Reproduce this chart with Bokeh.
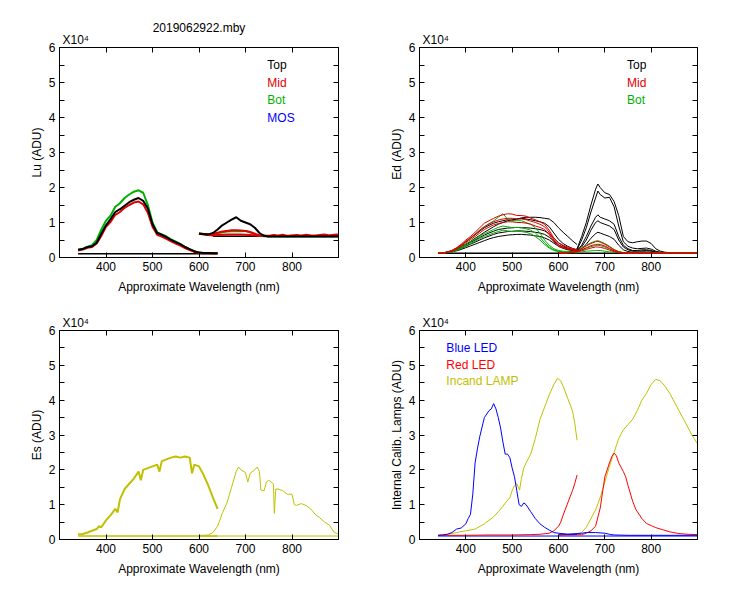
from bokeh.plotting import figure
from bokeh.models import Range1d, FixedTicker, LinearAxis, Label, Title
from bokeh.layouts import gridplot
from bokeh.embed import file_html
from bokeh.resources import INLINE

# ---------------- data (values in units of 1e4 ADU) ----------------
TITLE = "2019062922.mby"
MULT = "X10\u2074"
X_TICKS = [400, 500, 600, 700, 800]
Y_TICKS = [0, 1, 2, 3, 4, 5, 6]
Y_MINOR = [0.5, 1.5, 2.5, 3.5, 4.5, 5.5]
X_LABEL = "Approximate Wavelength (nm)"

# Lu panel
lu_wl_a = [340, 350, 360, 370, 380, 390, 400, 410, 420, 430, 440, 450, 460, 470, 480, 490,
           500, 510, 520, 530, 540, 550, 560, 570, 580, 590, 600, 610, 620, 630, 640]
lu_top_a = [0.22, 0.24, 0.30, 0.32, 0.42, 0.68, 0.92, 1.10, 1.30, 1.38, 1.48, 1.58, 1.65, 1.70, 1.62, 1.40,
            0.95, 0.70, 0.65, 0.58, 0.50, 0.44, 0.38, 0.30, 0.24, 0.18, 0.14, 0.13, 0.13, 0.12, 0.12]
lu_mid_a = [0.20, 0.23, 0.28, 0.30, 0.40, 0.62, 0.88, 1.02, 1.22, 1.30, 1.42, 1.50, 1.57, 1.60, 1.52, 1.28,
            0.88, 0.65, 0.60, 0.53, 0.46, 0.40, 0.34, 0.27, 0.21, 0.16, 0.13, 0.12, 0.12, 0.12, 0.12]
lu_bot_a = [0.22, 0.25, 0.30, 0.35, 0.50, 0.80, 1.05, 1.20, 1.45, 1.55, 1.70, 1.80, 1.88, 1.92, 1.85, 1.50,
            1.00, 0.72, 0.66, 0.60, 0.52, 0.45, 0.38, 0.30, 0.23, 0.17, 0.14, 0.13, 0.13, 0.12, 0.12]
lu_wl_b = [600, 610, 620, 630, 640, 650, 660, 670, 680, 690, 700, 710, 720, 730, 740, 750,
           760, 770, 780, 790, 800, 810, 820, 830, 840, 850, 860, 870, 880, 890, 900]
lu_top_b = [0.68, 0.67, 0.66, 0.70, 0.80, 0.92, 1.00, 1.08, 1.15, 1.05, 1.00, 0.95, 0.85, 0.70, 0.62, 0.60,
            0.60, 0.60, 0.60, 0.60, 0.60, 0.60, 0.60, 0.60, 0.60, 0.60, 0.60, 0.60, 0.60, 0.60, 0.60]
lu_mid_b = [0.68, 0.67, 0.66, 0.68, 0.71, 0.74, 0.76, 0.78, 0.78, 0.77, 0.76, 0.73, 0.68, 0.63, 0.62, 0.61,
            0.64, 0.62, 0.65, 0.61, 0.63, 0.64, 0.62, 0.65, 0.63, 0.62, 0.64, 0.66, 0.63, 0.65, 0.66]
lu_mid2_b = [0.68, 0.66, 0.64, 0.63, 0.64, 0.65, 0.66, 0.66, 0.66, 0.66, 0.65, 0.64, 0.63, 0.62, 0.62, 0.62,
             0.62, 0.62, 0.62, 0.62, 0.62, 0.62, 0.62, 0.62, 0.62, 0.62, 0.62, 0.62, 0.62, 0.62, 0.62]
lu_bot_b = [0.69, 0.67, 0.65, 0.66, 0.69, 0.72, 0.74, 0.75, 0.76, 0.75, 0.76, 0.72, 0.66, 0.62, 0.61, 0.60,
            0.61, 0.60, 0.61, 0.60, 0.61, 0.60, 0.61, 0.60, 0.61, 0.60, 0.61, 0.60, 0.61, 0.60, 0.61]
lu_dark_a_wl = [340, 640]
lu_dark_a = [0.11, 0.11]
lu_dark_b_wl = [630, 900]
lu_dark_b = [0.61, 0.61]

# Ed panel
ed_wl_a = [340, 350, 360, 370, 380, 390, 400, 410, 420, 430, 440, 450, 460, 470, 480, 490,
           500, 510, 520, 530, 540, 550, 560, 570, 580, 590, 600, 610, 620, 630, 640]
ed_top_a = [
    [0.12, 0.13, 0.15, 0.18, 0.24, 0.30, 0.38, 0.46, 0.55, 0.63, 0.72, 0.80, 0.88, 0.95, 1.00, 1.05,
     1.08, 1.10, 1.13, 1.15, 1.15, 1.15, 1.14, 1.12, 1.10, 1.00, 0.85, 0.72, 0.60, 0.48, 0.37],
    [0.12, 0.13, 0.16, 0.20, 0.27, 0.35, 0.45, 0.55, 0.65, 0.75, 0.85, 0.92, 0.98, 1.02, 1.05, 1.08,
     1.05, 1.10, 1.12, 1.10, 1.08, 1.05, 1.02, 0.98, 0.88, 0.70, 0.52, 0.40, 0.32, 0.26, 0.22],
    [0.12, 0.13, 0.15, 0.18, 0.23, 0.29, 0.36, 0.43, 0.50, 0.57, 0.64, 0.70, 0.75, 0.80, 0.82, 0.84,
     0.85, 0.86, 0.85, 0.85, 0.84, 0.82, 0.80, 0.76, 0.68, 0.55, 0.42, 0.33, 0.27, 0.23, 0.20],
    [0.12, 0.12, 0.14, 0.17, 0.21, 0.26, 0.32, 0.38, 0.44, 0.50, 0.56, 0.61, 0.66, 0.70, 0.72, 0.74,
     0.75, 0.76, 0.76, 0.75, 0.74, 0.72, 0.70, 0.66, 0.58, 0.47, 0.36, 0.29, 0.24, 0.21, 0.19],
    [0.12, 0.12, 0.13, 0.16, 0.19, 0.23, 0.28, 0.33, 0.38, 0.43, 0.48, 0.53, 0.57, 0.60, 0.62, 0.64,
     0.65, 0.66, 0.66, 0.65, 0.64, 0.62, 0.60, 0.56, 0.50, 0.41, 0.32, 0.26, 0.22, 0.20, 0.18],
]
ed_mid_a = [
    [0.12, 0.13, 0.16, 0.20, 0.28, 0.38, 0.50, 0.60, 0.72, 0.85, 0.98, 1.05, 1.12, 1.18, 1.22, 1.25,
     1.24, 1.20, 1.20, 1.18, 1.12, 1.08, 1.02, 0.95, 0.78, 0.55, 0.42, 0.35, 0.30, 0.26, 0.22],
    [0.12, 0.13, 0.15, 0.19, 0.26, 0.35, 0.46, 0.56, 0.66, 0.78, 0.88, 0.96, 1.02, 1.07, 1.10, 1.12,
     1.12, 1.10, 1.10, 1.08, 1.04, 1.00, 0.95, 0.88, 0.72, 0.50, 0.36, 0.30, 0.26, 0.23, 0.20],
    [0.12, 0.13, 0.15, 0.18, 0.24, 0.32, 0.42, 0.51, 0.60, 0.70, 0.80, 0.87, 0.93, 0.97, 1.00, 1.02,
     1.02, 1.00, 1.00, 0.98, 0.95, 0.90, 0.86, 0.80, 0.65, 0.45, 0.32, 0.27, 0.24, 0.21, 0.19],
]
ed_bot_a = [
    [0.12, 0.13, 0.15, 0.19, 0.26, 0.35, 0.46, 0.56, 0.67, 0.78, 0.88, 0.96, 1.05, 1.15, 1.25, 1.10,
     1.05, 1.05, 1.05, 1.00, 0.95, 0.85, 0.70, 0.50, 0.35, 0.25, 0.20, 0.18, 0.17, 0.16, 0.15],
    [0.12, 0.13, 0.14, 0.17, 0.22, 0.29, 0.37, 0.45, 0.53, 0.61, 0.68, 0.74, 0.80, 0.86, 0.90, 0.88,
     0.85, 0.86, 0.85, 0.82, 0.78, 0.70, 0.58, 0.42, 0.30, 0.22, 0.18, 0.16, 0.15, 0.15, 0.14],
    [0.12, 0.12, 0.14, 0.16, 0.20, 0.26, 0.33, 0.40, 0.47, 0.54, 0.60, 0.65, 0.70, 0.74, 0.78, 0.76,
     0.74, 0.75, 0.74, 0.72, 0.68, 0.60, 0.50, 0.37, 0.27, 0.20, 0.17, 0.15, 0.14, 0.14, 0.13],
]
ed_wl_b = [600, 610, 620, 630, 640, 650, 660, 670, 680, 685, 690, 700, 710, 720, 730, 740,
           750, 760, 770, 780, 790, 800, 810, 820, 830, 840, 850, 860, 870, 880, 890, 900]
ed_top_b = [
    [0.14, 0.14, 0.15, 0.18, 0.25, 0.60, 1.00, 1.50, 1.95, 2.10, 2.00, 1.85, 1.80, 1.60, 1.20, 0.60,
     0.45, 0.42, 0.45, 0.47, 0.47, 0.40, 0.25, 0.18, 0.15, 0.14, 0.14, 0.13, 0.13, 0.13, 0.13, 0.13],
    [0.13, 0.13, 0.14, 0.17, 0.22, 0.50, 0.85, 1.30, 1.70, 1.90, 1.80, 1.70, 1.72, 1.45, 0.90, 0.45,
     0.32, 0.27, 0.25, 0.26, 0.27, 0.24, 0.18, 0.15, 0.14, 0.13, 0.13, 0.13, 0.13, 0.13, 0.13, 0.13],
    [0.13, 0.13, 0.14, 0.16, 0.20, 0.35, 0.60, 0.90, 1.15, 1.22, 1.15, 1.10, 1.05, 0.95, 0.60, 0.35,
     0.25, 0.20, 0.20, 0.22, 0.22, 0.20, 0.16, 0.14, 0.13, 0.13, 0.13, 0.13, 0.13, 0.13, 0.13, 0.13],
    [0.13, 0.13, 0.14, 0.16, 0.19, 0.30, 0.50, 0.78, 1.00, 1.05, 1.00, 0.95, 0.90, 0.80, 0.50, 0.30,
     0.22, 0.18, 0.18, 0.19, 0.20, 0.18, 0.15, 0.14, 0.13, 0.13, 0.13, 0.13, 0.13, 0.13, 0.13, 0.13],
    [0.13, 0.13, 0.14, 0.15, 0.17, 0.25, 0.38, 0.55, 0.68, 0.72, 0.70, 0.65, 0.60, 0.52, 0.35, 0.22,
     0.17, 0.15, 0.15, 0.16, 0.16, 0.15, 0.14, 0.13, 0.13, 0.13, 0.13, 0.13, 0.13, 0.13, 0.13, 0.13],
]
ed_mid_b = [
    [0.13, 0.13, 0.14, 0.15, 0.18, 0.25, 0.33, 0.40, 0.45, 0.46, 0.44, 0.38, 0.30, 0.22, 0.16, 0.14,
     0.13, 0.13, 0.13, 0.13, 0.13, 0.13, 0.13, 0.13, 0.13, 0.13, 0.13, 0.13, 0.13, 0.13, 0.13, 0.13],
    [0.13, 0.13, 0.14, 0.15, 0.17, 0.22, 0.28, 0.34, 0.37, 0.38, 0.37, 0.33, 0.26, 0.19, 0.15, 0.14,
     0.13, 0.13, 0.13, 0.13, 0.13, 0.13, 0.13, 0.13, 0.13, 0.13, 0.13, 0.13, 0.13, 0.13, 0.13, 0.13],
    [0.13, 0.13, 0.14, 0.15, 0.16, 0.19, 0.23, 0.27, 0.30, 0.30, 0.29, 0.26, 0.21, 0.17, 0.14, 0.13,
     0.13, 0.13, 0.13, 0.13, 0.13, 0.13, 0.13, 0.13, 0.13, 0.13, 0.13, 0.13, 0.13, 0.13, 0.13, 0.13],
]
ed_bot_b = [
    [0.13, 0.13, 0.14, 0.15, 0.18, 0.26, 0.35, 0.42, 0.47, 0.48, 0.46, 0.40, 0.32, 0.23, 0.17, 0.14,
     0.13, 0.13, 0.13, 0.13, 0.13, 0.13, 0.13, 0.13, 0.13, 0.13, 0.13, 0.13, 0.13, 0.13, 0.13, 0.13],
    [0.13, 0.13, 0.14, 0.15, 0.16, 0.21, 0.26, 0.31, 0.34, 0.35, 0.34, 0.30, 0.24, 0.18, 0.15, 0.14,
     0.13, 0.13, 0.13, 0.13, 0.13, 0.13, 0.13, 0.13, 0.13, 0.13, 0.13, 0.13, 0.13, 0.13, 0.13, 0.13],
    [0.13, 0.13, 0.13, 0.14, 0.15, 0.16, 0.18, 0.19, 0.20, 0.20, 0.20, 0.18, 0.16, 0.15, 0.14, 0.13,
     0.13, 0.13, 0.13, 0.13, 0.13, 0.13, 0.13, 0.13, 0.13, 0.13, 0.13, 0.13, 0.13, 0.13, 0.13, 0.13],
]
ed_dark_wl = [340, 900]
ed_dark = [0.12, 0.12]

# Es panel
es_wl_a = [340, 350, 360, 370, 380, 385, 390, 400, 410, 420, 425, 430, 440, 450, 460, 470, 475, 480,
           490, 500, 510, 515, 520, 530, 540, 550, 560, 570, 580, 585, 590, 600, 610, 620, 630, 640]
es_a = [0.15, 0.16, 0.20, 0.25, 0.30, 0.38, 0.35, 0.55, 0.70, 0.88, 0.78, 1.15, 1.45, 1.60, 1.75, 1.95, 1.70, 2.00,
        2.05, 2.10, 2.15, 1.95, 2.25, 2.30, 2.35, 2.38, 2.35, 2.38, 2.35, 1.90, 2.15, 2.10, 1.85, 1.55, 1.20, 0.88]
es_wl_b = [600, 610, 620, 630, 640, 650, 660, 670, 680, 685, 690, 700, 705, 710, 720, 725, 730, 733, 740, 745,
           750, 760, 762, 765, 770, 780, 790, 800, 805, 810, 820, 830, 840, 850, 860, 870, 880, 890, 900]
es_b = [0.12, 0.12, 0.13, 0.20, 0.38, 0.75, 1.05, 1.50, 1.95, 2.08, 2.00, 1.92, 1.65, 1.90, 2.00, 2.08, 1.95, 1.42, 1.40, 1.65,
        1.70, 1.60, 0.75, 1.45, 1.45, 1.40, 1.30, 1.30, 1.00, 0.98, 1.03, 0.98, 0.88, 0.72, 0.62, 0.50, 0.42, 0.22, 0.15]
es_dark_a_wl = [340, 640]
es_dark_a = [0.10, 0.10]
es_dark_b_wl = [600, 900]
es_dark_b = [0.10, 0.10]

# Calibration lamps panel
blue_wl_a = [340, 350, 360, 370, 380, 390, 400, 405, 410, 415, 420, 425, 430, 440, 450, 455, 460, 465, 470, 475,
             480, 485, 490, 495, 500, 505, 510, 515, 520, 525, 530, 540, 550, 560, 570, 580, 590, 600, 620, 640]
blue_a = [0.12, 0.13, 0.15, 0.20, 0.30, 0.33, 0.45, 0.60, 0.72, 1.30, 2.20, 2.60, 2.95, 3.50, 3.70, 3.75, 3.90, 3.75, 3.50, 3.20,
          2.80, 2.45, 2.45, 2.35, 2.05, 1.80, 1.40, 1.00, 0.95, 1.05, 1.00, 0.80, 0.60, 0.45, 0.35, 0.27, 0.20, 0.18, 0.15, 0.15]
blue_wl_b = [600, 620, 640, 650, 660, 680, 700, 710, 720, 750, 800, 850, 900]
blue_b = [0.15, 0.15, 0.17, 0.18, 0.20, 0.20, 0.18, 0.15, 0.13, 0.12, 0.12, 0.12, 0.12]
blue_dark_wl = [340, 900]
blue_dark = [0.10, 0.10]
red_wl_a = [340, 400, 450, 500, 540, 560, 580, 590, 600, 605, 610, 620, 630, 635, 640]
red_a = [0.12, 0.12, 0.13, 0.13, 0.14, 0.15, 0.18, 0.25, 0.38, 0.50, 0.70, 1.05, 1.40, 1.60, 1.85]
red_wl_b = [600, 650, 660, 670, 680, 690, 700, 710, 715, 720, 725, 730, 740, 745, 750, 760, 767, 780, 790, 800,
            810, 825, 840, 860, 880, 900]
red_b = [0.12, 0.14, 0.18, 0.25, 0.38, 0.90, 1.80, 2.20, 2.38, 2.48, 2.40, 2.20, 1.95, 1.80, 1.55, 1.10, 0.86, 0.60, 0.46, 0.40,
         0.34, 0.28, 0.22, 0.17, 0.15, 0.14]
lamp_wl_a = [340, 360, 380, 400, 420, 440, 460, 470, 480, 487, 495, 500, 505, 510, 516, 520, 525, 530, 540, 550,
             560, 570, 580, 590, 598, 605, 610, 620, 630, 635, 640]
lamp_a = [0.12, 0.15, 0.20, 0.25, 0.30, 0.45, 0.65, 0.80, 0.95, 1.08, 1.20, 1.40, 1.55, 1.60, 1.42, 1.75, 2.05, 2.20, 2.45, 2.90,
          3.45, 3.80, 4.15, 4.45, 4.63, 4.55, 4.40, 4.05, 3.70, 3.35, 2.85]
lamp_wl_b = [600, 630, 640, 650, 660, 670, 680, 690, 700, 710, 720, 730, 740, 750, 760, 770, 780, 790, 800, 810,
             820, 830, 840, 850, 860, 870, 880, 890, 900]
lamp_b = [0.12, 0.14, 0.16, 0.20, 0.35, 0.60, 0.85, 1.20, 1.65, 2.10, 2.50, 2.90, 3.15, 3.30, 3.45, 3.70, 4.00, 4.20, 4.45, 4.60,
          4.55, 4.40, 4.20, 3.95, 3.70, 3.45, 3.20, 2.95, 2.75]

# ---------------- styling ----------------
FONT = "Liberation Sans"
BLACK = "#000000"
RED = "#E00000"
GREEN = "#00B000"
BLUE = "#0000FF"
OLIVE = "#C0C000"


def style_axis(ax, show_labels):
    ax.axis_line_color = BLACK
    ax.major_tick_line_color = BLACK
    ax.minor_tick_line_color = BLACK
    ax.major_tick_in = 5
    ax.major_tick_out = 0
    ax.minor_tick_in = 5
    ax.minor_tick_out = 0
    ax.major_label_text_font = FONT
    if show_labels:
        ax.major_label_text_font_size = "12px"
        ax.major_label_text_color = BLACK
        ax.major_label_standoff = 4
    else:
        ax.major_label_text_font_size = "1px"
        ax.major_label_text_color = None
        ax.major_label_standoff = 0
    ax.axis_label_text_font = FONT
    ax.axis_label_text_font_size = "12px"
    ax.axis_label_text_font_style = "normal"
    ax.axis_label_text_color = BLACK


def make_panel(ylabel, fw, fh, bl, br, bt, bb, title=None):
    p = figure(frame_width=fw, frame_height=fh,
               min_border_left=bl, min_border_right=br, min_border_top=bt, min_border_bottom=bb,
               x_range=Range1d(300, 900), y_range=Range1d(0, 6),
               x_axis_location=None, y_axis_location=None,
               output_backend="svg", toolbar_location=None)
    p.grid.visible = False
    p.outline_line_color = BLACK
    p.outline_line_alpha = 1
    p.background_fill_color = "white"
    p.border_fill_color = "white"
    xt = FixedTicker(ticks=X_TICKS, minor_ticks=[])
    yt = FixedTicker(ticks=Y_TICKS, minor_ticks=Y_MINOR)
    below = LinearAxis(ticker=xt, axis_label=X_LABEL, axis_label_standoff=6)
    style_axis(below, True)
    p.add_layout(below, "below")
    above = LinearAxis(ticker=xt)
    style_axis(above, False)
    p.add_layout(above, "above")
    left = LinearAxis(ticker=yt, axis_label=ylabel, axis_label_standoff=2)
    style_axis(left, True)
    p.add_layout(left, "left")
    right = LinearAxis(ticker=yt)
    style_axis(right, False)
    p.add_layout(right, "right")
    # x10^4 multiplier above the frame, left aligned
    p.add_layout(Title(text=MULT, align="left", offset=3, standoff=1, text_font=FONT,
                       text_font_size="12px", text_font_style="normal", text_color=BLACK), "above")
    if title:
        p.title.text = title
        p.title.align = "center"
        p.title.text_font = FONT
        p.title.text_font_size = "12px"
        p.title.text_font_style = "normal"
        p.title.text_color = BLACK
        p.title.standoff = -8
    else:
        p.title.visible = False
    return p


def legend_text(p, x, y, text, color):
    p.add_layout(Label(x=x, y=y, text=text, text_font=FONT, text_font_size="12px",
                       text_color=color, text_baseline="middle", text_align="left"))


LU_W = 2

# ---------------- Lu ----------------
p1 = make_panel("Lu (ADU)", 279, 210, 59, 29, 47, 42, title=TITLE)
p1.line(lu_dark_a_wl, lu_dark_a, color=BLACK, line_width=1.5)
p1.line(lu_dark_b_wl, lu_dark_b, color=BLACK, line_width=1.5)
p1.line(lu_wl_a, lu_bot_a, color=GREEN, line_width=LU_W)
p1.line(lu_wl_a, lu_mid_a, color=RED, line_width=LU_W)
p1.line(lu_wl_a, lu_top_a, color=BLACK, line_width=LU_W)
p1.line(lu_wl_b, lu_bot_b, color=GREEN, line_width=LU_W)
p1.line(lu_wl_b, lu_mid2_b, color=RED, line_width=LU_W)
p1.line(lu_wl_b, lu_mid_b, color=RED, line_width=LU_W)
p1.line(lu_wl_b, lu_top_b, color=BLACK, line_width=LU_W)
legend_text(p1, 747, 5.5, "Top", BLACK)
legend_text(p1, 747, 5.0, "Mid", RED)
legend_text(p1, 747, 4.5, "Bot", GREEN)
legend_text(p1, 747, 4.0, "MOS", BLUE)

# ---------------- Ed ----------------
p2 = make_panel("Ed  (ADU)", 278, 210, 52, 30, 47, 42)
p2.line(ed_dark_wl, ed_dark, color=BLACK, line_width=1.5)
for ys in ed_top_a:
    p2.line(ed_wl_a, ys, color=BLACK, line_width=1)
for ys in ed_top_b:
    p2.line(ed_wl_b, ys, color=BLACK, line_width=1)
for ys in ed_bot_a:
    p2.line(ed_wl_a, ys, color=GREEN, line_width=1)
for ys in ed_bot_b:
    p2.line(ed_wl_b, ys, color=GREEN, line_width=1)
for ys in ed_mid_a:
    p2.line(ed_wl_a, ys, color=RED, line_width=1)
for ys in ed_mid_b:
    p2.line(ed_wl_b, ys, color=RED, line_width=1)
legend_text(p2, 748, 5.5, "Top", BLACK)
legend_text(p2, 748, 5.0, "Mid", RED)
legend_text(p2, 748, 4.5, "Bot", GREEN)

# ---------------- Es ----------------
p3 = make_panel("Es (ADU)", 279, 209, 59, 29, 31, 44)
p3.line(es_dark_a_wl, es_dark_a, color=OLIVE, line_width=1.5)
p3.line(es_dark_b_wl, es_dark_b, color=OLIVE, line_width=1)
p3.line(es_wl_a, es_a, color=OLIVE, line_width=2)
p3.line(es_wl_b, es_b, color=OLIVE, line_width=1)

# ---------------- Lamps ----------------
p4 = make_panel("Internal Calib. Lamps (ADU)", 278, 209, 52, 30, 31, 44)
p4.line(blue_dark_wl, blue_dark, color=BLUE, line_width=1)
p4.line(lamp_wl_a, lamp_a, color=OLIVE, line_width=1)
p4.line(lamp_wl_b, lamp_b, color=OLIVE, line_width=1)
p4.line(red_wl_a, red_a, color="#FF0000", line_width=1)
p4.line(red_wl_b, red_b, color="#FF0000", line_width=1)
p4.line(blue_wl_a, blue_a, color=BLUE, line_width=1)
p4.line(blue_wl_b, blue_b, color=BLUE, line_width=1)
legend_text(p4, 358, 5.5, "Blue LED", BLUE)
legend_text(p4, 358, 5.02, "Red LED", "#FF0000")
legend_text(p4, 358, 4.54, "Incand LAMP", OLIVE)

grid = gridplot([[p1, p2], [p3, p4]], toolbar_location=None)

open("out.html", "w").write(file_html(grid, INLINE))
